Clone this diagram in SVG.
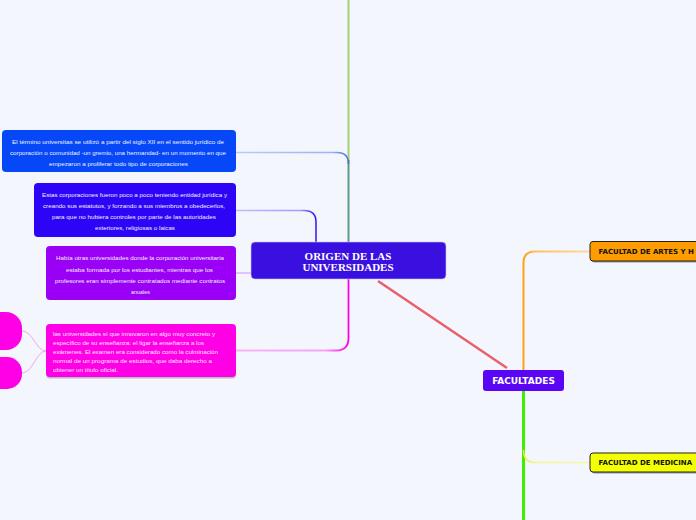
<svg xmlns="http://www.w3.org/2000/svg" width="696" height="520" viewBox="0 0 696 520">
<style>
.t{font-family:"Liberation Sans",Arial,sans-serif;font-size:5.6px;fill:#eef0ff}
.c{text-anchor:middle}
.t4{font-family:"Liberation Sans",Arial,sans-serif;font-size:5.8px;fill:#ffe6fb}
.big{font-family:"Liberation Serif","Times New Roman",serif;font-weight:bold;font-size:11px;fill:#fff;text-anchor:middle}
.fac{font-family:"DejaVu Sans",Verdana,sans-serif;font-weight:bold}
.sub{stroke:#222;stroke-width:1}
</style>
<defs>
<linearGradient id="g1" gradientUnits="userSpaceOnUse" x1="236" y1="0" x2="348" y2="0"><stop offset="0" stop-color="#b8cafb"/><stop offset="0.85" stop-color="#9ab2f8"/><stop offset="1" stop-color="#3d6ff3"/></linearGradient>
<linearGradient id="g2" gradientUnits="userSpaceOnUse" x1="236" y1="0" x2="316" y2="0"><stop offset="0" stop-color="#c4baff"/><stop offset="0.8" stop-color="#a897ff"/><stop offset="1" stop-color="#3510f2"/></linearGradient>
<linearGradient id="g4" gradientUnits="userSpaceOnUse" x1="236" y1="0" x2="348" y2="0"><stop offset="0" stop-color="#f9b4f3"/><stop offset="0.8" stop-color="#f7a4f0"/><stop offset="1" stop-color="#ff00e6"/></linearGradient>
<linearGradient id="go" gradientUnits="userSpaceOnUse" x1="523" y1="0" x2="590" y2="0"><stop offset="0" stop-color="#ffa012"/><stop offset="0.2" stop-color="#ffc060"/><stop offset="1" stop-color="#ffd9a0"/></linearGradient>
<linearGradient id="gy" gradientUnits="userSpaceOnUse" x1="523" y1="0" x2="590" y2="0"><stop offset="0" stop-color="#eaf030"/><stop offset="0.2" stop-color="#f4f590"/><stop offset="1" stop-color="#f6f7b0"/></linearGradient>
</defs>
<rect width="696" height="520" fill="#f3f6fd"/>
<g id="connectors" fill="none">
<path d="M348.5,0 V164" stroke="#a3cf78" stroke-width="2"/>
<path d="M348.5,160 V242" stroke="#5f9a8b" stroke-width="2"/>
<path d="M236,152.5 H337 Q348.5,152.5 348.5,164" stroke="url(#g1)" stroke-width="1.3"/>
<path d="M236,210.5 H304 Q316,210.5 316,222 V242" stroke="url(#g2)" stroke-width="1.5"/>
<path d="M236,273 H251" stroke="#d592f3" stroke-width="1"/>
<path d="M348.5,279 V338 Q348.5,350.5 336,350.5 H236" stroke="url(#g4)" stroke-width="1.8"/>
<path d="M46,351 C36,351 33,331 22,331" stroke="#f6a2ef" stroke-width="1"/>
<path d="M46,351 C36,351 33,373 22,373" stroke="#f6a2ef" stroke-width="1"/>
<path d="M378,281 L507,368" stroke="#e9606b" stroke-width="2.5"/>
<path d="M523.5,370 V263 Q523.5,251.5 535,251.5 H590" stroke="url(#go)" stroke-width="2"/>
<path d="M523.5,391 V520" stroke="#3ef000" stroke-width="3"/>
<path d="M523.5,450 Q523.5,462.5 535,462.5 H590" stroke="url(#gy)" stroke-width="1.5"/>
</g>
<g id="node1">
<rect x="2" y="130" width="234" height="42" rx="4" fill="#0648f7"/>
<text class="t c" x="118" y="143.5" textLength="212" lengthAdjust="spacingAndGlyphs">El término universitas se utilizó a partir del siglo XII en el sentido jurídico de</text>
<text class="t c" x="118" y="155" textLength="216" lengthAdjust="spacingAndGlyphs">corporación o comunidad -un gremio, una hermandad- en un momento en que</text>
<text class="t c" x="118.5" y="166" textLength="139" lengthAdjust="spacingAndGlyphs">empezaron a proliferar todo tipo de corporaciones</text>
</g>
<g id="node2">
<rect x="34" y="183" width="202" height="54" rx="4" fill="#2d04f6"/>
<text class="t c" x="134.5" y="197" textLength="185" lengthAdjust="spacingAndGlyphs">Estas corporaciones fueron poco a poco teniendo entidad jurídica y</text>
<text class="t c" x="134" y="208" textLength="182" lengthAdjust="spacingAndGlyphs">creando sus estatutos, y forzando a sus miembros a obedecerlos,</text>
<text class="t c" x="134" y="219" textLength="164" lengthAdjust="spacingAndGlyphs">para que no hubiera controles por parte de las autoridades</text>
<text class="t c" x="135" y="230" textLength="80" lengthAdjust="spacingAndGlyphs">exteriores, religiosas o laicas</text>
</g>
<g id="node3">
<rect x="46" y="246" width="190" height="54" rx="4" fill="#9b00f6"/>
<text class="t c" x="140" y="260" textLength="168" lengthAdjust="spacingAndGlyphs">Había otras universidades donde la corporación universitaria</text>
<text class="t c" x="139.5" y="271.5" textLength="147" lengthAdjust="spacingAndGlyphs">estaba formada por los estudiantes, mientras que los</text>
<text class="t c" x="140" y="283" textLength="170" lengthAdjust="spacingAndGlyphs">profesores eran simplemente contratados mediante contratos</text>
<text class="t c" x="140.5" y="294" textLength="19" lengthAdjust="spacingAndGlyphs">anuales</text>
</g>
<g id="node4">
<rect x="46" y="325.5" width="190" height="53" rx="4" fill="#a0a0a8" opacity="0.7"/>
<rect x="46" y="324" width="190" height="53" rx="4" fill="#ff00e6"/>
<text class="t4" x="53" y="336" textLength="162" lengthAdjust="spacingAndGlyphs">las universidades sí que innovaron en algo muy concreto y</text>
<text class="t4" x="53" y="345" textLength="151" lengthAdjust="spacingAndGlyphs">específico de su enseñanza: el ligar la enseñanza a los</text>
<text class="t4" x="53" y="354" textLength="165" lengthAdjust="spacingAndGlyphs">exámenes. El examen era considerado como la culminación</text>
<text class="t4" x="53" y="363" textLength="159" lengthAdjust="spacingAndGlyphs">normal de un programa de estudios, que daba derecho a</text>
<text class="t4" x="53" y="371.5" textLength="65" lengthAdjust="spacingAndGlyphs">obtener un título oficial.</text>
</g>
<g id="blob1"><rect x="-40" y="312" width="62" height="38" rx="16" fill="#ff00e6"/></g>
<g id="blob2"><rect x="-40" y="357" width="62" height="32" rx="15" fill="#ff00e6"/></g>
<g id="central">
<rect x="251" y="242" width="195" height="37" rx="4" fill="#3a10e0" stroke="#c8c0f8" stroke-width="0.6"/>
<text class="big" x="348" y="260">ORIGEN DE LAS</text>
<text class="big" x="348" y="271">UNIVERSIDADES</text>
</g>
<g id="facultades">
<rect x="483" y="370" width="81" height="21" rx="3" fill="#5a06f5"/>
<text class="fac" x="523.5" y="384" font-size="9" fill="#fff" text-anchor="middle">FACULTADES</text>
</g>
<g id="artes">
<rect x="591.5" y="243" width="120" height="19.5" rx="3" fill="#555" opacity="0.6"/>
<rect x="590" y="241.5" width="120" height="19.5" rx="3" fill="#ff9c00" class="sub"/>
<text class="fac" x="598.5" y="254" font-size="7" fill="#111">FACULTAD DE ARTES Y H</text>
</g>
<g id="medicina">
<rect x="591.5" y="454.5" width="120" height="19" rx="3" fill="#555" opacity="0.6"/>
<rect x="590" y="453" width="120" height="19" rx="3" fill="#f4ff00" class="sub"/>
<text class="fac" x="598.5" y="465" font-size="7" fill="#111">FACULTAD DE MEDICINA</text>
</g>
</svg>
